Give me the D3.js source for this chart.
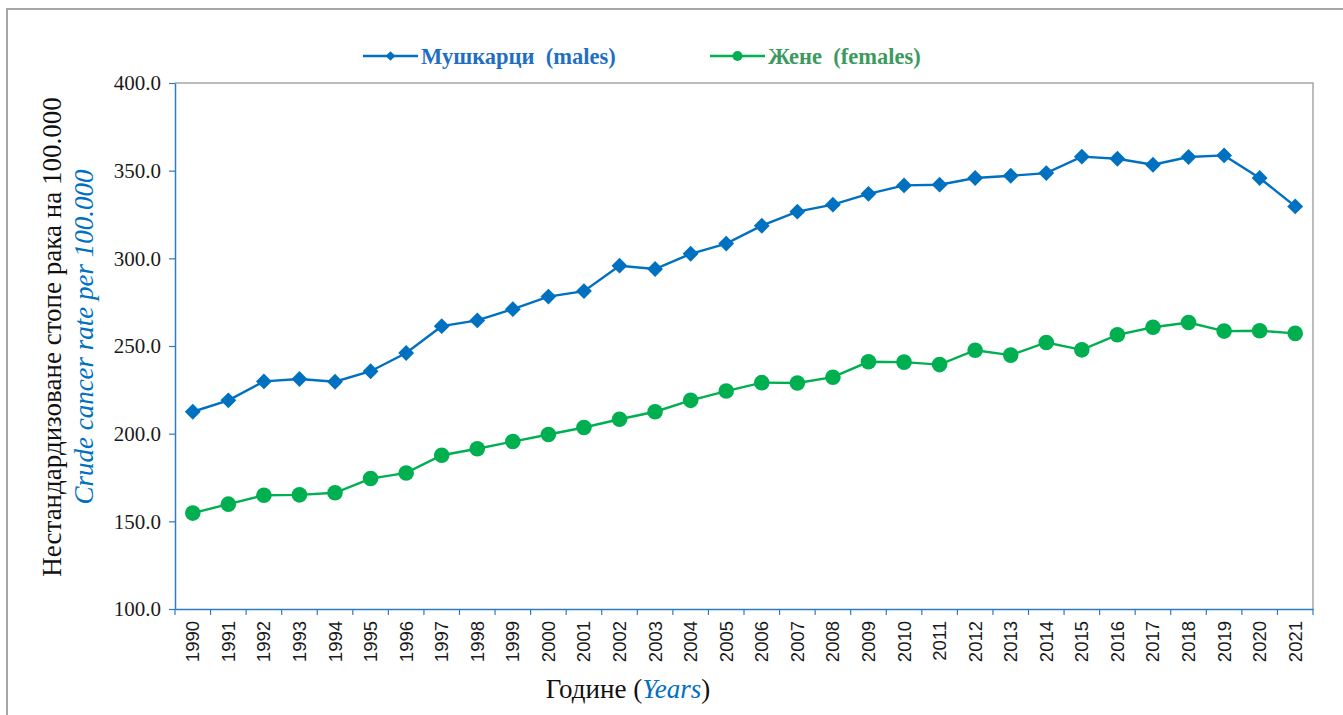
<!DOCTYPE html>
<html>
<head>
<meta charset="utf-8">
<script src="https://cdn.jsdelivr.net/npm/d3@7"></script>
<style>
    body { margin: 0; background: #fff; }
</style>
</head>
<body>
<script>
const years = d3.range(1990, 2022);
const males = [212.5, 219, 229.8, 231.2, 229.6, 235.6, 246, 261.3, 264.6, 271, 278.2, 281.3, 295.8, 293.9, 302.6, 308.4, 318.6, 326.6, 330.6, 336.8, 341.6, 342, 345.8, 347.1, 348.6, 358, 356.8, 353.4, 357.8, 358.7, 345.8, 329.6];
const females = [154.7, 159.8, 164.9, 165.1, 166.3, 174.4, 177.6, 187.7, 191.4, 195.5, 199.5, 203.5, 208.2, 212.5, 219, 224.3, 229.1, 228.9, 232.2, 241, 240.8, 239.4, 247.6, 244.8, 252, 247.8, 256.4, 260.7, 263.4, 258.5, 258.7, 257.2];
const yTicks = [100, 150, 200, 250, 300, 350, 400];

const W = 1343, H = 715;
const plot = {left: 175, right: 1313, top: 83, bottom: 609};
const blue = "#0070C0", green = "#00B050", axisBlue = "#2E7BC4", frameGray = "#A6A6A6";
const serif = '"Liberation Serif", "Times New Roman", serif';

const svg = d3.select("body").append("svg")
    .attr("width", W)
    .attr("height", H);

// outer chart frame
svg.append("rect")
    .attr("x", 7).attr("y", 9)
    .attr("width", W + 10).attr("height", H + 10)
    .attr("fill", "none")
    .attr("stroke", frameGray)
    .attr("stroke-width", 2);

const xScale = d3.scaleBand()
    .domain(years)
    .range([plot.left, plot.right])
    .padding(0);

const yScale = d3.scaleLinear()
    .domain([100, 400])
    .range([plot.bottom, plot.top]);

// plot area border (top and right)
svg.append("path")
    .attr("d", "M" + plot.left + "," + plot.top + "H" + plot.right + "V" + plot.bottom)
    .attr("fill", "none")
    .attr("stroke", frameGray)
    .attr("stroke-width", 1.5);

// y axis
const yAxis = d3.axisLeft(yScale)
    .tickValues(yTicks)
    .tickFormat(d3.format(".1f"))
    .tickSize(6)
    .tickSizeOuter(0);

const gy = svg.append("g")
    .attr("transform", "translate(" + plot.left + ",0)")
    .call(yAxis);
gy.select(".domain").attr("stroke", axisBlue).attr("stroke-width", 1.5);
gy.selectAll(".tick line").attr("stroke", axisBlue).attr("stroke-width", 1.2);
gy.selectAll(".tick text")
    .attr("x", -14)
    .style("font-family", serif)
    .style("font-size", "21px")
    .attr("fill", "#1a1a1a");

// x axis: labels at band centers, ticks at band boundaries
const xAxis = d3.axisBottom(xScale).tickSize(0).tickSizeOuter(0);
const gx = svg.append("g")
    .attr("transform", "translate(0," + plot.bottom + ")")
    .call(xAxis);
gx.select(".domain").attr("stroke", axisBlue).attr("stroke-width", 1.5);
gx.selectAll(".tick text")
    .attr("transform", "rotate(-90)")
    .attr("x", -12)
    .attr("y", 0)
    .attr("dy", "0.35em")
    .style("text-anchor", "end")
    .style("font-family", '"Liberation Sans", Arial, sans-serif')
    .style("font-size", "18.5px")
    .attr("fill", "#1a1a1a");

const boundaries = years.map(d => xScale(d)).concat([plot.right]);
svg.append("g").selectAll("line")
    .data(boundaries)
    .enter()
    .append("line")
    .attr("x1", d => d).attr("x2", d => d)
    .attr("y1", plot.bottom).attr("y2", plot.bottom + 6)
    .attr("stroke", axisBlue)
    .attr("stroke-width", 1.2);

// series
const cx = (d, i) => xScale(years[i]) + xScale.bandwidth() / 2;
const line = d3.line().x(cx).y(d => yScale(d));

svg.append("path")
    .datum(males)
    .attr("d", line)
    .attr("fill", "none")
    .attr("stroke", blue)
    .attr("stroke-width", 2.4);

svg.append("path")
    .datum(females)
    .attr("d", line)
    .attr("fill", "none")
    .attr("stroke", green)
    .attr("stroke-width", 2.4);

const diamond = d3.symbol().type(d3.symbolDiamond2).size(160);

svg.append("g").selectAll("path")
    .data(males)
    .enter()
    .append("path")
    .attr("d", diamond)
    .attr("transform", (d, i) => "translate(" + cx(d, i) + "," + yScale(d) + ")")
    .attr("fill", blue);

svg.append("g").selectAll("circle")
    .data(females)
    .enter()
    .append("circle")
    .attr("cx", cx)
    .attr("cy", d => yScale(d))
    .attr("r", 7.8)
    .attr("fill", green);

// legend
const legend = [
    {label: "Мушкарци  (males)", color: blue, text: "#1F6FC5", x: 363, shape: "diamond"},
    {label: "Жене  (females)", color: green, text: "#3C9A5F", x: 710, shape: "circle"}
];
const lg = svg.append("g").selectAll("g")
    .data(legend)
    .enter()
    .append("g")
    .attr("transform", d => "translate(" + d.x + ",56)");
lg.append("line")
    .attr("x1", 0).attr("x2", 55)
    .attr("stroke", d => d.color)
    .attr("stroke-width", 2.4);
lg.filter(d => d.shape === "diamond").append("path")
    .attr("d", d3.symbol().type(d3.symbolDiamond2).size(60))
    .attr("transform", "translate(27.5,0)")
    .attr("fill", d => d.color);
lg.filter(d => d.shape === "circle").append("circle")
    .attr("cx", 27.5).attr("r", 5)
    .attr("fill", d => d.color);
lg.append("text")
    .attr("x", 58)
    .attr("dy", "0.35em")
    .attr("fill", d => d.text)
    .style("font-family", serif)
    .style("font-weight", "bold")
    .style("font-size", "22.5px")
    .style("white-space", "pre")
    .text(d => d.label);

// y title
const yt = svg.append("text")
    .attr("transform", "translate(52,337) rotate(-90)")
    .style("text-anchor", "middle")
    .style("font-family", serif)
    .style("font-size", "27px");
yt.append("tspan")
    .attr("x", 0).attr("dy", "0.35em")
    .attr("fill", "#111")
    .text("Нестандардизоване стопе рака на 100.000");
yt.append("tspan")
    .attr("x", 0).attr("dy", "1.15em")
    .attr("fill", blue)
    .style("font-style", "italic")
    .text("Crude cancer rate per 100.000");

// x title
const xt = svg.append("text")
    .attr("x", 628)
    .attr("y", 698)
    .style("text-anchor", "middle")
    .style("font-family", serif)
    .style("font-size", "27px")
    .attr("fill", "#111");
xt.append("tspan").text("Године (");
xt.append("tspan").attr("fill", blue).style("font-style", "italic").text("Years");
xt.append("tspan").text(")");
</script>
</body>
</html>
